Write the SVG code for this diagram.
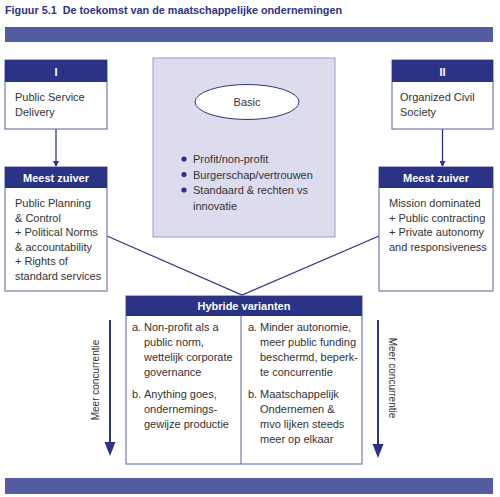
<svg xmlns="http://www.w3.org/2000/svg" width="500" height="497" viewBox="0 0 500 497">
<defs>
<style>
text{font-family:"Liberation Sans",Arial,sans-serif;font-size:11px;fill:#333;}
.title{font-size:10.5px;font-weight:bold;fill:#2b3386;}
.hd{fill:#fff;font-weight:bold;text-anchor:middle;}
.box{fill:#fff;stroke:#5a5f9f;stroke-width:1;}
.hdr{fill:#2b3386;}
.bar{fill:#545ca0;}
.conn{stroke:#2b3386;stroke-width:1.3;fill:none;}
.big{stroke:#2b3386;stroke-width:2;fill:none;}
.head{fill:#2b3386;}
.side{font-size:10px;text-anchor:middle;}
</style>
<marker id="sm" markerWidth="6" markerHeight="6" refX="5" refY="3" orient="auto" markerUnits="userSpaceOnUse">
<path d="M0,0 L6,3 L0,6 Z" fill="#2b3386"/>
</marker>
</defs>
<rect width="500" height="497" fill="#fff"/>
<text class="title" x="5" y="14" textLength="337" lengthAdjust="spacingAndGlyphs">Figuur 5.1&#160; De toekomst van de maatschappelijke ondernemingen</text>
<rect class="bar" x="5" y="27" width="488" height="15"/>
<rect class="bar" x="5" y="478" width="488" height="16"/>

<g id="connectors">
<line class="conn" x1="56" y1="129" x2="56" y2="166" marker-end="url(#sm)"/>
<line class="conn" x1="442.5" y1="129" x2="442.5" y2="166" marker-end="url(#sm)"/>
<polyline class="conn" points="107,236 242,295 379,236"/>
<line class="big" x1="110" y1="320" x2="110" y2="445"/>
<polygon class="head" points="104.5,442 115.5,442 110,456"/>
<line class="big" x1="378" y1="320" x2="378" y2="447"/>
<polygon class="head" points="372.5,444 383.5,444 378,458"/>
</g>

<g id="box-I">
<rect class="box" x="5" y="60" width="102" height="69"/>
<rect class="hdr" x="5" y="60" width="102" height="22"/>
<text class="hd" x="56" y="76">I</text>
<text x="15" y="101">Public Service</text>
<text x="15" y="116">Delivery</text>
</g>

<g id="box-II">
<rect class="box" x="392" y="60" width="101" height="69"/>
<rect class="hdr" x="392" y="60" width="101" height="22"/>
<text class="hd" x="442.5" y="76">II</text>
<text x="400" y="101">Organized Civil</text>
<text x="400" y="116">Society</text>
</g>

<g id="zuiver-left">
<rect class="box" x="5" y="167" width="102" height="124"/>
<rect class="hdr" x="5" y="167" width="102" height="21"/>
<text class="hd" x="56" y="182">Meest zuiver</text>
<text x="15" y="207">Public Planning</text>
<text x="15" y="221.5">&amp; Control</text>
<text x="15" y="236">+ Political Norms</text>
<text x="15" y="250.5">&amp; accountability</text>
<text x="15" y="265">+ Rights of</text>
<text x="15" y="279.5">standard services</text>
</g>

<g id="zuiver-right">
<rect class="box" x="379" y="167" width="114" height="124"/>
<rect class="hdr" x="379" y="167" width="114" height="21"/>
<text class="hd" x="436" y="182">Meest zuiver</text>
<text x="389" y="207">Mission dominated</text>
<text x="389" y="221.5">+ Public contracting</text>
<text x="389" y="236">+ Private autonomy</text>
<text x="389" y="250.5">and responsiveness</text>
</g>

<g id="basic">
<rect x="153" y="58" width="182" height="179" fill="#dcdcee" stroke="#9a9ac8" stroke-width="1"/>
<ellipse cx="247" cy="102" rx="52" ry="17.5" fill="#fff" stroke="#2b3386" stroke-width="1"/>
<text x="247" y="106" text-anchor="middle">Basic</text>
<circle class="head" cx="184" cy="159" r="2.6"/>
<circle class="head" cx="184" cy="174.5" r="2.6"/>
<circle class="head" cx="184" cy="190" r="2.6"/>
<text x="193" y="163">Profit/non-profit</text>
<text x="193" y="178.5">Burgerschap/vertrouwen</text>
<text x="193" y="194">Standaard &amp; rechten vs</text>
<text x="193" y="209.5">innovatie</text>
</g>

<g id="hybride">
<rect class="box" x="126" y="296" width="236" height="168"/>
<rect class="hdr" x="126" y="296" width="236" height="20"/>
<text class="hd" x="244" y="310">Hybride varianten</text>
<line x1="241" y1="316" x2="241" y2="464" stroke="#5a5f9f" stroke-width="1"/>
<text x="132" y="331">a.</text>
<text x="144" y="331">Non-profit als a</text>
<text x="144" y="346">public norm,</text>
<text x="144" y="361">wettelijk corporate</text>
<text x="144" y="376">governance</text>
<text x="132" y="398">b.</text>
<text x="144" y="398">Anything goes,</text>
<text x="144" y="413">ondernemings-</text>
<text x="144" y="428">gewijze productie</text>
<text x="248" y="331">a.</text>
<text x="260" y="331">Minder autonomie,</text>
<text x="260" y="346">meer public funding</text>
<text x="260" y="361">beschermd, beperk-</text>
<text x="260" y="376">te concurrentie</text>
<text x="248" y="398">b.</text>
<text x="260" y="398">Maatschappelijk</text>
<text x="260" y="413">Ondernemen &amp;</text>
<text x="260" y="428">mvo lijken steeds</text>
<text x="260" y="443">meer op elkaar</text>
</g>

<g id="side-labels">
<text class="side" transform="translate(98.5,380) rotate(-90)">Meer concurrentie</text>
<text class="side" transform="translate(388.5,378) rotate(90)">Meer concurrentie</text>
</g>
</svg>
